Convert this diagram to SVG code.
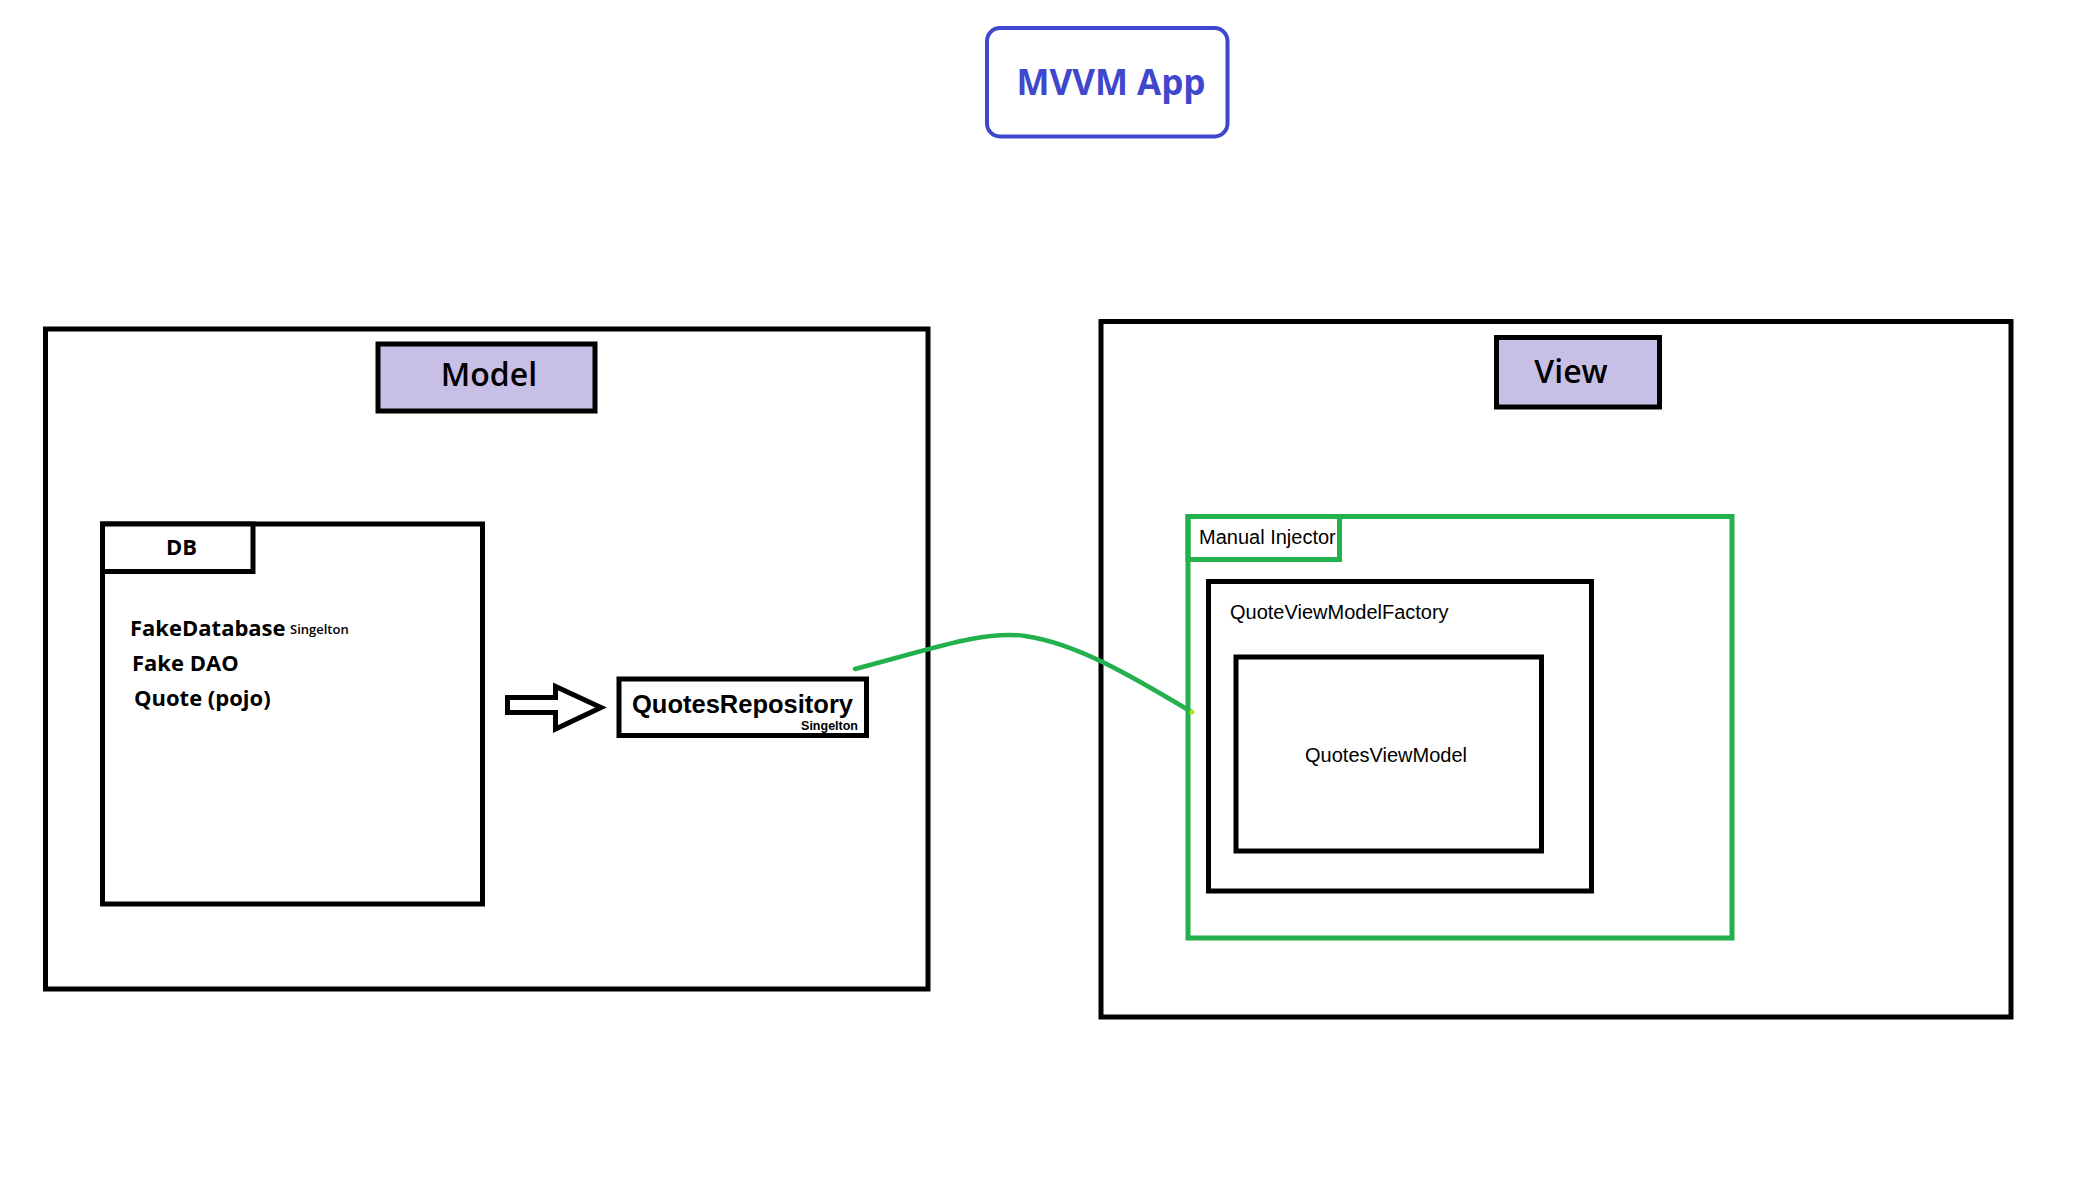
<svg xmlns="http://www.w3.org/2000/svg" width="2076" height="1196" viewBox="0 0 2076 1196">
  <style>
    .box { fill: #ffffff; stroke: #000000; stroke-width: 5; }
    .label { fill: #c8bfe7; stroke: #000000; stroke-width: 5; }
    .green { fill: none; stroke: #22b14c; stroke-width: 5; }
    .title { font-family: "Open Sans", "Noto Sans", "Liberation Sans", sans-serif; font-weight: 600; font-size: 32px; fill: #000; }
    .item { font-family: "Open Sans", "Noto Sans", "Liberation Sans", sans-serif; font-weight: 700; font-size: 22px; fill: #000; }
    .plain { font-family: "Liberation Sans", Arial, sans-serif; font-size: 20px; fill: #000; }
  </style>
  <rect width="2076" height="1196" fill="#ffffff"/>

  <g id="mvvm-app">
    <rect x="987" y="28" width="240.5" height="108.5" rx="13" ry="13" fill="#ffffff" stroke="#3f48cc" stroke-width="4"/>
    <text x="1111" y="95" text-anchor="middle" font-family="'Open Sans', 'Noto Sans', sans-serif" font-weight="700" font-size="35" fill="#3f48cc">MVVM App</text>
  </g>

  <g id="model">
    <rect class="box" x="45.5" y="329" width="882.5" height="660"/>
    <g id="model-label">
      <rect class="label" x="378" y="344" width="217" height="67"/>
      <text class="title" x="489" y="386" text-anchor="middle">Model</text>
    </g>
    <g id="db">
      <rect class="box" x="102.5" y="524" width="380" height="380"/>
      <rect class="box" x="102.5" y="524" width="150.5" height="47.5"/>
      <text class="item" x="166" y="555" font-size="21.5">DB</text>
      <text class="item" x="130" y="636">FakeDatabase</text>
      <text x="290" y="634" font-family="'Open Sans', 'Noto Sans', sans-serif" font-weight="600" font-size="13" fill="#000">Singelton</text>
      <text class="item" x="132" y="671">Fake DAO</text>
      <text class="item" x="134" y="706">Quote (pojo)</text>
    </g>
    <g id="quotes-repository">
      <rect class="box" x="619" y="679" width="247.5" height="56.5"/>
      <text x="632" y="713" font-family="'Liberation Sans', Arial, sans-serif" font-weight="700" font-size="25.5" fill="#000">QuotesRepository</text>
      <text x="858" y="730" text-anchor="end" font-family="'Liberation Sans', Arial, sans-serif" font-weight="700" font-size="12.5" fill="#000">Singelton</text>
    </g>
  </g>

  <g id="view">
    <rect class="box" x="1101" y="321.5" width="910" height="695.5"/>
    <g id="view-label">
      <rect class="label" x="1496.5" y="337.5" width="163" height="69.5"/>
      <text class="title" x="1571" y="383" text-anchor="middle">View</text>
    </g>
    <g id="manual-injector">
      <rect class="green" x="1188" y="516.5" width="544" height="421.5"/>
      <rect class="green" x="1188" y="516.5" width="151.5" height="43"/>
      <text class="plain" x="1199" y="544" font-size="19.5">Manual Injector</text>
    </g>
    <g id="quote-view-model-factory">
      <rect class="box" x="1208.5" y="581.5" width="383" height="309.5"/>
      <text class="plain" x="1230" y="619">QuoteViewModelFactory</text>
    </g>
    <g id="quotes-view-model">
      <rect class="box" x="1236" y="657" width="305.5" height="194"/>
      <text class="plain" x="1386" y="762" text-anchor="middle" font-size="19">QuotesViewModel</text>
    </g>
  </g>

  <g id="connectors">
    <polygon points="507.5,697.5 555.5,697.5 555.5,686.5 601,707.5 555.5,729 555.5,712.5 507.5,712.5" fill="#ffffff" stroke="#000000" stroke-width="5" stroke-linejoin="miter"/>
    <path d="M855,669 C935,648 985,630 1025,636 C1075,643 1130,675 1190,711" fill="none" stroke="#22b14c" stroke-width="4.5" stroke-linecap="round"/>
    <circle cx="1192" cy="712" r="2.5" fill="#b5e61d"/>
  </g>
</svg>
